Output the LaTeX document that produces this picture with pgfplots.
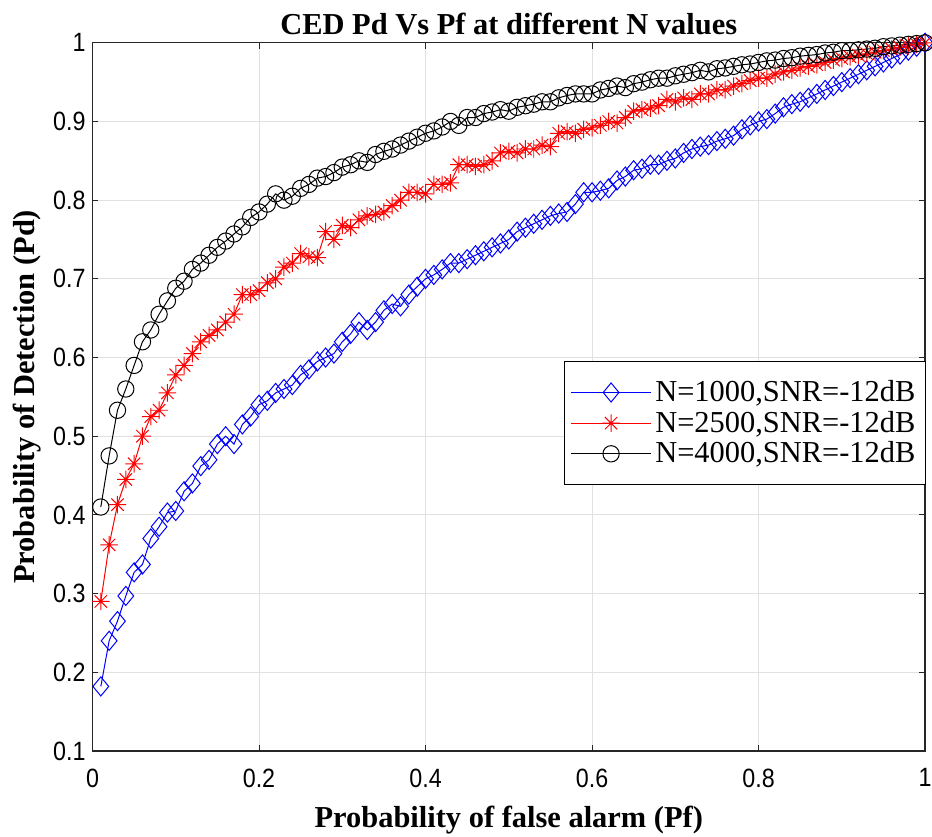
\documentclass[border=0pt]{standalone}
\usepackage{fontspec}
\setmainfont{Liberation Serif}
\setsansfont{Liberation Sans}[FakeStretch=0.88]
\usepackage{pgfplots}
\pgfplotsset{compat=1.18}
\usepackage{pgfplotstable}

\definecolor{axgray}{RGB}{38,38,38}
\definecolor{gridgray}{RGB}{225,225,225}

% MATLAB style '*' marker (plus and cross)
\pgfdeclareplotmark{mstar}{%
  \pgfpathmoveto{\pgfqpoint{0pt}{\pgfplotmarksize}}\pgfpathlineto{\pgfqpoint{0pt}{-\pgfplotmarksize}}%
  \pgfpathmoveto{\pgfqpoint{\pgfplotmarksize}{0pt}}\pgfpathlineto{\pgfqpoint{-\pgfplotmarksize}{0pt}}%
  \pgfpathmoveto{\pgfqpoint{.707\pgfplotmarksize}{.707\pgfplotmarksize}}\pgfpathlineto{\pgfqpoint{-.707\pgfplotmarksize}{-.707\pgfplotmarksize}}%
  \pgfpathmoveto{\pgfqpoint{-.707\pgfplotmarksize}{.707\pgfplotmarksize}}\pgfpathlineto{\pgfqpoint{.707\pgfplotmarksize}{-.707\pgfplotmarksize}}%
  \pgfusepathqstroke}

% N=1000
\pgfplotstableread{
x y
0.01 0.182
0.02 0.240
0.03 0.265
0.04 0.297
0.05 0.327
0.06 0.337
0.07 0.370
0.08 0.385
0.09 0.403
0.10 0.405
0.11 0.430
0.12 0.440
0.13 0.462
0.14 0.470
0.15 0.490
0.16 0.500
0.17 0.490
0.18 0.515
0.19 0.525
0.20 0.540
0.21 0.545
0.22 0.555
0.23 0.560
0.24 0.565
0.25 0.578
0.26 0.585
0.27 0.595
0.28 0.600
0.29 0.605
0.30 0.620
0.31 0.630
0.32 0.645
0.33 0.635
0.34 0.645
0.35 0.660
0.36 0.668
0.37 0.665
0.38 0.680
0.39 0.690
0.40 0.700
0.41 0.705
0.42 0.712
0.43 0.720
0.44 0.720
0.45 0.725
0.46 0.730
0.47 0.735
0.48 0.740
0.49 0.745
0.50 0.750
0.51 0.760
0.52 0.765
0.53 0.770
0.54 0.775
0.55 0.780
0.56 0.783
0.57 0.785
0.58 0.795
0.59 0.810
0.60 0.810
0.61 0.812
0.62 0.815
0.63 0.825
0.64 0.830
0.65 0.838
0.66 0.840
0.67 0.845
0.68 0.845
0.69 0.850
0.70 0.853
0.71 0.860
0.72 0.865
0.73 0.868
0.74 0.870
0.75 0.875
0.76 0.878
0.77 0.882
0.78 0.890
0.79 0.895
0.80 0.900
0.81 0.903
0.82 0.910
0.83 0.918
0.84 0.922
0.85 0.925
0.86 0.930
0.87 0.935
0.88 0.940
0.89 0.945
0.90 0.950
0.91 0.955
0.92 0.960
0.93 0.965
0.94 0.970
0.95 0.975
0.96 0.980
0.97 0.985
0.98 0.990
0.99 0.995
1.00 1.000
}\tblA

% N=2500
\pgfplotstableread{
x y
0.01 0.290
0.02 0.362
0.03 0.413
0.04 0.445
0.05 0.465
0.06 0.500
0.07 0.525
0.08 0.533
0.09 0.555
0.10 0.578
0.11 0.590
0.12 0.605
0.13 0.620
0.14 0.628
0.15 0.635
0.16 0.645
0.17 0.655
0.18 0.680
0.19 0.680
0.20 0.685
0.21 0.695
0.22 0.700
0.23 0.715
0.24 0.720
0.25 0.732
0.26 0.728
0.27 0.727
0.28 0.760
0.29 0.750
0.30 0.768
0.31 0.765
0.32 0.775
0.33 0.780
0.34 0.782
0.35 0.785
0.36 0.793
0.37 0.800
0.38 0.810
0.39 0.810
0.40 0.808
0.41 0.820
0.42 0.820
0.43 0.822
0.44 0.845
0.45 0.845
0.46 0.843
0.47 0.845
0.48 0.850
0.49 0.860
0.50 0.862
0.51 0.860
0.52 0.865
0.53 0.865
0.54 0.870
0.55 0.868
0.56 0.885
0.57 0.887
0.58 0.885
0.59 0.890
0.60 0.892
0.61 0.895
0.62 0.900
0.63 0.898
0.64 0.905
0.65 0.913
0.66 0.915
0.67 0.917
0.68 0.920
0.69 0.928
0.70 0.925
0.71 0.930
0.72 0.928
0.73 0.935
0.74 0.935
0.75 0.940
0.76 0.940
0.77 0.945
0.78 0.948
0.79 0.952
0.80 0.955
0.81 0.955
0.82 0.960
0.83 0.963
0.84 0.965
0.85 0.968
0.86 0.970
0.87 0.972
0.88 0.975
0.89 0.978
0.90 0.980
0.91 0.982
0.92 0.984
0.93 0.986
0.94 0.988
0.95 0.990
0.96 0.992
0.97 0.994
0.98 0.996
0.99 0.998
1.00 1.000
}\tblB

% N=4000
\pgfplotstableread{
x y
0.01 0.410
0.02 0.475
0.03 0.533
0.04 0.560
0.05 0.590
0.06 0.620
0.07 0.635
0.08 0.655
0.09 0.672
0.10 0.688
0.11 0.697
0.12 0.712
0.13 0.720
0.14 0.730
0.15 0.740
0.16 0.748
0.17 0.757
0.18 0.766
0.19 0.778
0.20 0.785
0.21 0.795
0.22 0.808
0.23 0.800
0.24 0.805
0.25 0.815
0.26 0.820
0.27 0.828
0.28 0.830
0.29 0.835
0.30 0.842
0.31 0.845
0.32 0.850
0.33 0.848
0.34 0.858
0.35 0.862
0.36 0.865
0.37 0.870
0.38 0.875
0.39 0.880
0.40 0.885
0.41 0.888
0.42 0.893
0.43 0.900
0.44 0.895
0.45 0.905
0.46 0.905
0.47 0.910
0.48 0.912
0.49 0.915
0.50 0.913
0.51 0.918
0.52 0.920
0.53 0.922
0.54 0.925
0.55 0.925
0.56 0.930
0.57 0.933
0.58 0.935
0.59 0.935
0.60 0.935
0.61 0.940
0.62 0.942
0.63 0.945
0.64 0.943
0.65 0.948
0.66 0.950
0.67 0.953
0.68 0.955
0.69 0.955
0.70 0.958
0.71 0.960
0.72 0.962
0.73 0.965
0.74 0.963
0.75 0.967
0.76 0.968
0.77 0.970
0.78 0.972
0.79 0.973
0.80 0.975
0.81 0.977
0.82 0.978
0.83 0.980
0.84 0.981
0.85 0.983
0.86 0.984
0.87 0.985
0.88 0.987
0.89 0.988
0.90 0.990
0.91 0.990
0.92 0.991
0.93 0.992
0.94 0.993
0.95 0.995
0.96 0.996
0.97 0.997
0.98 0.998
0.99 0.999
1.00 1.000
}\tblC

\begin{document}
\begin{tikzpicture}
\begin{axis}[
  scale only axis, width=418.5pt, height=356pt,
  xmin=0, xmax=1, ymin=0.1, ymax=1,
  xtick={0,0.2,0.4,0.6,0.8,1},
  ytick={0.1,0.2,0.3,0.4,0.5,0.6,0.7,0.8,0.9,1},
  /pgf/number format/assume math mode=true,
  tick label style={font=\sffamily\fontsize{13.3}{15}\selectfont},
  xticklabel style={yshift=-5.4pt},
  grid=major, major grid style={gridgray, line width=0.5pt},
  axis line style={axgray, line width=0.6pt},
  tick style={axgray, line width=0.5pt},
  tick align=inside, major tick length=3pt,
  title={CED Pd Vs Pf at different N values},
  every axis title shift=0pt,
  title style={font=\bfseries\fontsize{15.3}{17}\selectfont,
    at={(axis description cs:0.5,1.0112)}, anchor=base, yshift=0pt},
  xlabel={Probability of false alarm (Pf)},
  ylabel={Probability of Detection (Pd)},
  label style={font=\bfseries\fontsize{15.3}{17}\selectfont},
  xlabel style={at={(axis description cs:0.5,-0.1081)}, anchor=base},
  ylabel style={at={(axis description cs:-0.0693,0.5)}, anchor=base},
  legend style={at={(1.001,0.5506)}, anchor=north east,
    font=\fontsize{15.3}{16.5}\selectfont, draw=black, line width=0.5pt,
    row sep=-0.7pt, inner xsep=3pt, inner ysep=7.5pt},
  legend cell align=left,
  legend image code/.code={%
    \draw[mark repeat=2,mark phase=2] plot coordinates {(0pt,0pt) (20pt,0pt) (40pt,0pt)};},
]
\addplot[blue, line width=0.5pt, mark=diamond, mark size=4.8pt,
  mark options={xscale=1.1, line width=0.5pt}] table[x=x,y=y] {\tblA};
\addplot[red, line width=0.5pt, mark=mstar, mark size=4.4pt,
  mark options={line width=0.5pt}] table[x=x,y=y] {\tblB};
\addplot[black, line width=0.5pt, mark=o, mark size=4.1pt,
  mark options={line width=0.5pt}] table[x=x,y=y] {\tblC};
\legend{N=1000{,}SNR=-12dB, N=2500{,}SNR=-12dB, N=4000{,}SNR=-12dB}
\end{axis}
\pgfresetboundingbox
\path ([xshift=-46.5pt,yshift=-43pt]current axis.south west) rectangle ([xshift=3.5pt,yshift=21.5pt]current axis.north east);
\end{tikzpicture}
\end{document}
